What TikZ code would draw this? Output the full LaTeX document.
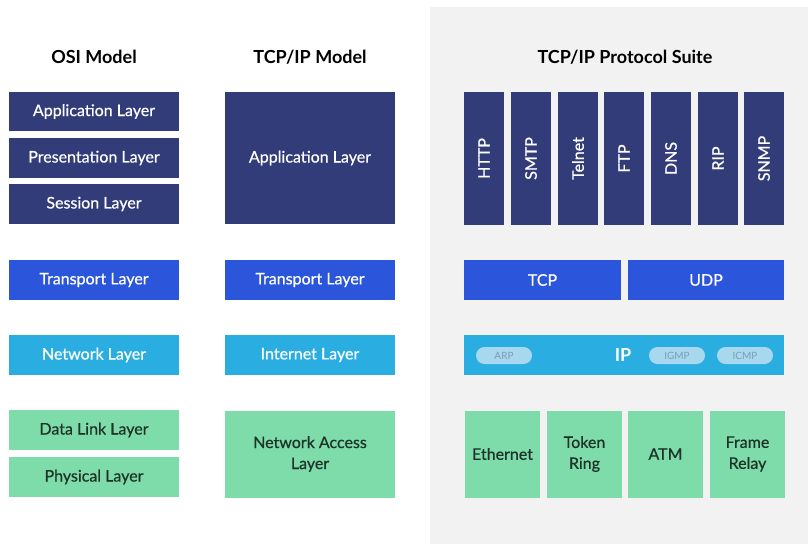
\documentclass[tikz,border=0pt]{standalone}
\usepackage{fontspec}
\setmainfont{Lato}
\newfontfamily\medfont[FakeBold=0.6]{Lato}
\definecolor{navy}{HTML}{323C78}
\definecolor{royal}{HTML}{2B55DB}
\definecolor{sky}{HTML}{2AAEE2}
\definecolor{mint}{HTML}{7EDCAA}
\definecolor{panel}{HTML}{F2F2F2}
\definecolor{pill}{HTML}{A8D8EE}
\definecolor{pilltext}{HTML}{7C9CB4}
\definecolor{darktext}{HTML}{1E3328}
\begin{document}
\begin{tikzpicture}[x=1pt,y=-1pt,
  lay/.style={rectangle,inner sep=0pt,align=center,font=\medfont\fontsize{16}{21}\selectfont,text=white},
  darkbox/.style={lay,fill=navy},
  tbox/.style={lay,fill=royal},
  nbox/.style={lay,fill=sky},
  gbox/.style={lay,fill=mint,text=darktext},
  proto/.style={darkbox,minimum width=40pt,minimum height=133pt,font=\medfont\fontsize{16}{18}\selectfont},
  pillbox/.style={rectangle,rounded corners=8.5pt,fill=pill,text=pilltext,minimum width=56pt,minimum height=17pt,inner sep=0pt,font=\fontsize{10}{11}\selectfont},
  title/.style={font=\fontsize{18}{21}\selectfont\bfseries,text=black}]
\useasboundingbox (0,0) rectangle (808,544);
\fill[white] (0,0) rectangle (808,544);
\fill[panel] (430,7) rectangle (808,544);
% titles
\node[title] (t1) at (94,57) {OSI Model};
\node[title] (t2) at (310,57) {TCP/IP Model};
\node[title] (t3) at (625,57) {TCP/IP Protocol Suite};
% OSI
\node[darkbox,minimum width=170pt,minimum height=39pt] (oapp) at (94,111.5) {Application Layer};
\node[darkbox,minimum width=170pt,minimum height=40pt] (opres) at (94,158) {Presentation Layer};
\node[darkbox,minimum width=170pt,minimum height=40pt] (osess) at (94,204) {Session Layer};
\node[tbox,minimum width=170pt,minimum height=40pt] (otrans) at (94,280) {Transport Layer};
\node[nbox,minimum width=170pt,minimum height=40pt] (onet) at (94,355) {Network Layer};
\node[gbox,minimum width=170pt,minimum height=40pt] (odl) at (94,430) {Data Link Layer};
\node[gbox,minimum width=170pt,minimum height=40pt] (ophy) at (94,477) {Physical Layer};
% TCP/IP model
\node[darkbox,minimum width=170pt,minimum height=132pt] (tapp) at (310,158) {Application Layer};
\node[tbox,minimum width=170pt,minimum height=40pt] (ttrans) at (310,280) {Transport Layer};
\node[nbox,minimum width=170pt,minimum height=40pt] (tint) at (310,355) {Internet Layer};
\node[gbox,minimum width=170pt,minimum height=87pt] (tacc) at (310,454) {Network Access\\Layer};
% protocols
\node[proto] (http) at (484,158.5) {\rotatebox{90}{HTTP}};
\node[proto] (smtp) at (531,158.5) {\rotatebox{90}{SMTP}};
\node[proto] (telnet) at (578,158.5) {\rotatebox{90}{Telnet}};
\node[proto] (ftp) at (624,158.5) {\rotatebox{90}{FTP}};
\node[proto] (dns) at (671,158.5) {\rotatebox{90}{DNS}};
\node[proto] (rip) at (718,158.5) {\rotatebox{90}{RIP}};
\node[proto] (snmp) at (764,158.5) {\rotatebox{90}{SNMP}};
\node[tbox,minimum width=157pt,minimum height=40pt] (tcp) at (542.5,280) {TCP};
\node[tbox,minimum width=156pt,minimum height=40pt] (udp) at (706,280) {UDP};
\node[nbox,minimum width=320pt,minimum height=40pt] (ipbar) at (624,355) {};
\node[lay,font=\fontsize{18}{20}\selectfont\bfseries] (ip) at (623,355) {IP};
\node[pillbox] (arp) at (504,355.5) {ARP};
\node[pillbox] (igmp) at (677,355.5) {IGMP};
\node[pillbox] (icmp) at (745,355.5) {ICMP};
\node[gbox,minimum width=75pt,minimum height=87pt] (eth) at (502.5,454) {Ethernet};
\node[gbox,minimum width=75pt,minimum height=87pt] (tok) at (584.5,454) {Token\\Ring};
\node[gbox,minimum width=75pt,minimum height=87pt] (atm) at (665.5,454) {ATM};
\node[gbox,minimum width=75pt,minimum height=87pt] (fr) at (747.5,454) {Frame\\Relay};
\end{tikzpicture}
\end{document}
